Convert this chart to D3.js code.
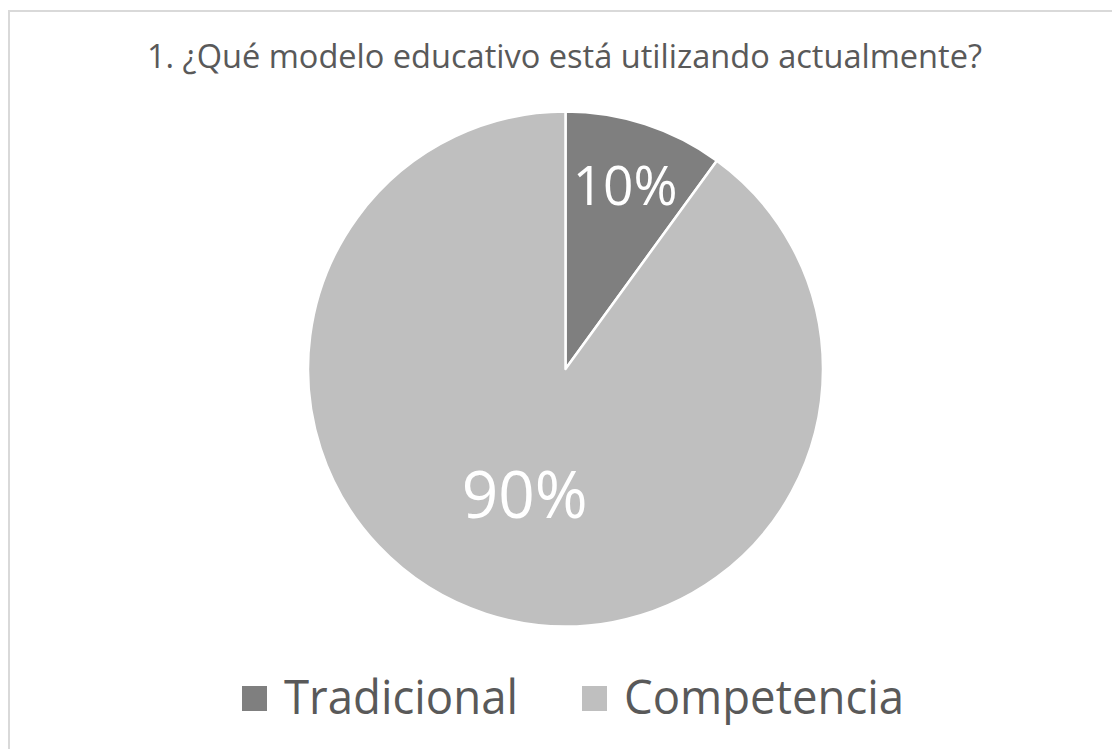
<!DOCTYPE html>
<html>
<head>
<meta charset="utf-8">
<script src="https://cdn.jsdelivr.net/npm/d3@7"></script>
<style>
  body { margin: 0; background: #fff; }
  svg { display: block; font-family: "Open Sans", sans-serif; }
</style>
</head>
<body>
<svg width="1112" height="749"></svg>
<script>
// data
var categories = ['Tradicional', 'Competencia'];
var values = [10, 90];
var labels = ['10%', '90%'];
var colors = ['#7f7f7f', '#bfbfbf'];
var title = '1. ¿Qué modelo educativo está utilizando actualmente?';

var svg = d3.select('svg'),
    cx = 565.5,
    cy = 369,
    radius = 257.5;

// chart border
svg.append('rect')
    .attr('x', 9).attr('y', 11)
    .attr('width', 1120).attr('height', 760)
    .attr('fill', 'none')
    .attr('stroke', '#d9d9d9')
    .attr('stroke-width', 2);

// title
svg.append('text')
    .attr('x', 564.5)
    .attr('y', 68)
    .attr('text-anchor', 'middle')
    .attr('fill', '#595959')
    .style('font-size', '32px')
    .attr('textLength', 835)
    .attr('lengthAdjust', 'spacingAndGlyphs')
    .text(title);

var pie = d3.pie().sort(null).value(function(d) { return d; });
var arcs = pie(values);

var arc = d3.arc().innerRadius(0).outerRadius(radius);

var g = svg.append('g')
    .attr('transform', 'translate(' + cx + ',' + cy + ')');

g.selectAll('.slice')
  .data(arcs)
  .enter().append('path')
    .attr('class', 'slice')
    .attr('d', arc)
    .attr('fill', function(d, i) { return colors[i]; })
    .attr('stroke', '#fff')
    .attr('stroke-width', 2.5)
    .attr('stroke-linejoin', 'round');

// data labels (Excel puts them at different distances)
var labelRadius = [193, 132],
    labelSize = [55, 66],
    labelWidth = [105, 126];

g.selectAll('.lbl')
  .data(arcs)
  .enter().append('text')
    .attr('class', 'lbl')
    .attr('transform', function(d, i) {
        var c = d3.arc().innerRadius(labelRadius[i]).outerRadius(labelRadius[i]).centroid(d);
        return 'translate(' + c[0] + ',' + c[1] + ')';
    })
    .attr('dy', '0.36em')
    .attr('text-anchor', 'middle')
    .attr('fill', '#fff')
    .style('font-size', function(d, i) { return labelSize[i] + 'px'; })
    .attr('textLength', function(d, i) { return labelWidth[i]; })
    .attr('lengthAdjust', 'spacingAndGlyphs')
    .text(function(d, i) { return labels[i]; });

// legend
var legendX = [242, 582],
    textW = [234, 280];

var leg = svg.selectAll('.legend')
  .data(categories)
  .enter().append('g')
    .attr('class', 'legend')
    .attr('transform', function(d, i) { return 'translate(' + legendX[i] + ',686)'; });

leg.append('rect')
    .attr('width', 25)
    .attr('height', 25)
    .attr('fill', function(d, i) { return colors[i]; });

leg.append('text')
    .attr('x', 42)
    .attr('y', 28)
    .attr('fill', '#595959')
    .style('font-size', '47px')
    .attr('textLength', function(d, i) { return textW[i]; })
    .attr('lengthAdjust', 'spacingAndGlyphs')
    .text(function(d) { return d; });
</script>
</body>
</html>
